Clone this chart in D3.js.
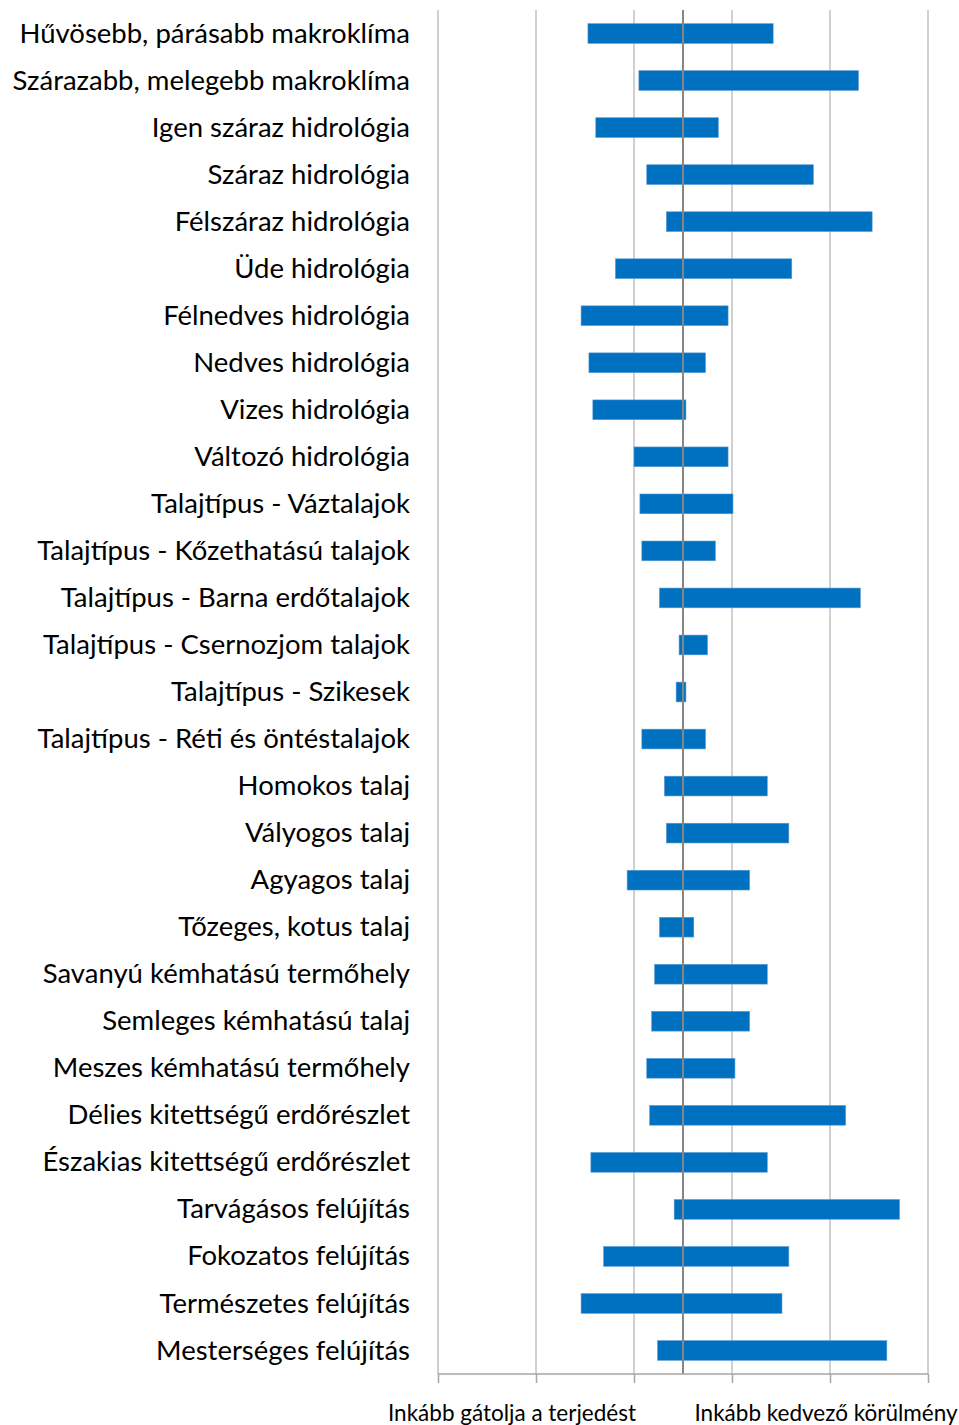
<!DOCTYPE html>
<html><head><meta charset="utf-8">
<script src="https://cdn.jsdelivr.net/npm/d3@7"></script>
<style>html,body{margin:0;padding:0;background:#fff;} svg{display:block;}</style>
</head><body>
<svg id="chart" width="959" height="1425"></svg>
<script>
const categories = [
  "Hűvösebb, párásabb makroklíma",
  "Szárazabb, melegebb makroklíma",
  "Igen száraz hidrológia",
  "Száraz hidrológia",
  "Félszáraz hidrológia",
  "Üde hidrológia",
  "Félnedves hidrológia",
  "Nedves hidrológia",
  "Vizes hidrológia",
  "Változó hidrológia",
  "Talajtípus - Váztalajok",
  "Talajtípus - Kőzethatású talajok",
  "Talajtípus - Barna erdőtalajok",
  "Talajtípus - Csernozjom talajok",
  "Talajtípus - Szikesek",
  "Talajtípus - Réti és öntéstalajok",
  "Homokos talaj",
  "Vályogos talaj",
  "Agyagos talaj",
  "Tőzeges, kotus talaj",
  "Savanyú kémhatású termőhely",
  "Semleges kémhatású talaj",
  "Meszes kémhatású termőhely",
  "Délies kitettségű erdőrészlet",
  "Északias kitettségű erdőrészlet",
  "Tarvágásos felújítás",
  "Fokozatos felújítás",
  "Természetes felújítás",
  "Mesterséges felújítás"
];
const lowValues  = [-0.97,-0.45,-0.89,-0.37,-0.17,-0.69,-1.04,-0.96,-0.92,-0.50,-0.44,-0.42,-0.24,-0.04,-0.07,-0.42,-0.19,-0.17,-0.57,-0.24,-0.29,-0.32,-0.37,-0.34,-0.94,-0.09,-0.81,-1.04,-0.26];
const highValues = [0.92,1.79,0.36,1.33,1.93,1.11,0.46,0.23,0.03,0.46,0.51,0.33,1.81,0.25,0.03,0.23,0.86,1.08,0.68,0.11,0.86,0.68,0.53,1.66,0.86,2.21,1.08,1.01,2.08];
const gridValues = [-2.5,-1.5,-0.5,0.5,1.5,2.5];
const axisLabels = ["Inkább gátolja a terjedést", "Inkább kedvező körülmény"];

const svg = d3.select("#chart");
const pL = 438, pR = 928, pT = 10, pB = 1374;
const x = d3.scaleLinear().domain([-2.5, 2.5]).range([pL, pR]);
const y = d3.scaleBand().domain(categories).range([pT, pB]).paddingInner(0.58).paddingOuter(0.29);
const font = "Lato, 'Open Sans', sans-serif";

// gridlines
svg.append("g").selectAll("line").data(gridValues).join("line")
  .attr("x1", d => x(d)).attr("x2", d => x(d))
  .attr("y1", pT).attr("y2", pB)
  .attr("stroke", "#c0c0c0").attr("stroke-width", 1.5);

// bars
svg.append("g").selectAll("rect").data(categories).join("rect")
  .attr("x", (d,i) => x(lowValues[i]))
  .attr("width", (d,i) => x(highValues[i]) - x(lowValues[i]))
  .attr("y", d => y(d))
  .attr("height", y.bandwidth())
  .attr("fill", "#0070c0")
  .attr("stroke", "#5b9bd5").attr("stroke-width", 0.6);

// center line
svg.append("line")
  .attr("x1", x(0)).attr("x2", x(0)).attr("y1", pT).attr("y2", pB)
  .attr("stroke", "#868686").attr("stroke-width", 2);

// bottom axis
const axis = d3.axisBottom(x).tickValues(gridValues).tickSize(9).tickFormat("");
const ag = svg.append("g").attr("transform", `translate(0,${pB})`).call(axis);
ag.select(".domain").attr("stroke", "#a6a6a6").attr("stroke-width", 1.5).attr("d", `M${pL},0H${pR}`);
ag.selectAll(".tick line").attr("stroke", "#a6a6a6").attr("stroke-width", 1.5);

// category labels
svg.append("g").selectAll("text").data(categories).join("text")
  .attr("x", 410)
  .attr("y", d => y(d) + y.bandwidth()/2)
  .attr("dy", "0.33em")
  .attr("text-anchor", "end")
  .attr("font-family", font)
  .attr("font-size", 27.5)
  .attr("fill", "#000")
  .text(d => d);

// bottom labels
svg.append("text").attr("x", 512).attr("y", 1421).attr("text-anchor", "middle")
  .attr("font-family", font).attr("font-size", 22.5).attr("fill", "#000").text(axisLabels[0]);
svg.append("text").attr("x", 826).attr("y", 1421).attr("text-anchor", "middle")
  .attr("font-family", font).attr("font-size", 22.5).attr("fill", "#000").text(axisLabels[1]);
</script>
</body></html>
